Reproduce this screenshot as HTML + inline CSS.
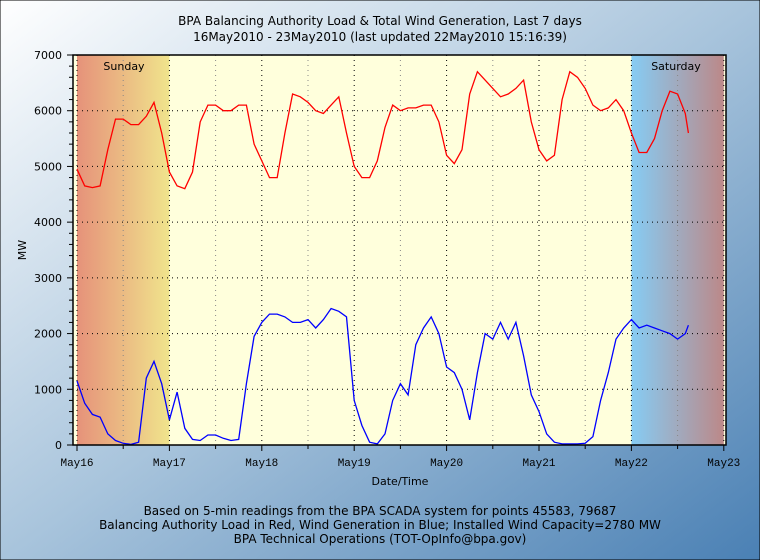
<!DOCTYPE html>
<html><head><meta charset="utf-8"><style>
body{margin:0;width:760px;height:560px;overflow:hidden}
svg{display:block;font-family:"DejaVu Sans","Liberation Sans",sans-serif}
</style></head><body>
<svg id="chart" width="760" height="560">
<defs>
<linearGradient id="bg" x1="0" y1="0" x2="1" y2="1"><stop offset="0" stop-color="#ffffff"/><stop offset="0.5" stop-color="#a8c4dc"/><stop offset="1" stop-color="#4a80b4"/></linearGradient>
<linearGradient id="sun" x1="0" x2="1"><stop offset="0" stop-color="#e6927a"/><stop offset="1" stop-color="#f0e48c"/></linearGradient>
<linearGradient id="sat" x1="0" x2="1"><stop offset="0" stop-color="#86ccf4"/><stop offset="1" stop-color="#bc8888"/></linearGradient>
</defs>
<rect width="760" height="560" fill="url(#bg)" stroke="#000"/>
<text x="380" y="25" text-anchor="middle" font-size="12">BPA Balancing Authority Load &amp; Total Wind Generation, Last 7 days</text>
<text x="380" y="41" text-anchor="middle" font-size="12">16May2010 - 23May2010 (last updated 22May2010 15:16:39)</text>
<rect x="73" y="55" width="653" height="390" fill="#ffffdc"/>
<g id="bands"></g><g id="grid"></g><g id="series"></g><g id="axes"></g>
<text x="124" y="70" text-anchor="middle" font-size="11">Sunday</text>
<text x="676" y="70" text-anchor="middle" font-size="11">Saturday</text>
<text transform="translate(26,250) rotate(-90)" text-anchor="middle" font-size="11">MW</text>
<text x="400" y="485" text-anchor="middle" font-size="11">Date/Time</text>
<text x="380" y="515" text-anchor="middle" font-size="12">Based on 5-min readings from the BPA SCADA system for points 45583, 79687</text>
<text x="380" y="529" text-anchor="middle" font-size="12">Balancing Authority Load in Red, Wind Generation in Blue; Installed Wind Capacity=2780 MW</text>
<text x="380" y="543" text-anchor="middle" font-size="12">BPA Technical Operations (TOT-OpInfo@bpa.gov)</text>
</svg>
<script>
const dayLabels=["May16","May17","May18","May19","May20","May21","May22","May23"];
const yTicks=[0,1000,2000,3000,4000,5000,6000,7000];
// values every 2 hours starting May16 00:00; last point at 14.8h on May22
const loadMW=[4950,4650,4620,4650,5300,5850,5850,5750,5750,5900,6150,5600,
4900,4650,4600,4900,5800,6100,6100,6000,6000,6100,6100,5400,
5100,4800,4800,5600,6300,6250,6150,6000,5950,6100,6250,5600,
5000,4800,4800,5100,5700,6100,6000,6050,6050,6100,6100,5800,
5200,5050,5300,6300,6700,6550,6400,6250,6300,6400,6550,5800,
5300,5100,5200,6200,6700,6600,6400,6100,6000,6050,6200,6000,
5600,5250,5250,5500,6000,6350,6300,5950,5600];
const windMW=[1150,750,550,500,200,80,30,10,50,1200,1500,1100,
450,950,300,100,80,180,180,120,80,100,1100,1950,
2200,2350,2350,2300,2200,2200,2250,2100,2250,2450,2400,2300,
800,350,50,20,200,800,1100,900,1800,2100,2300,2000,
1400,1300,1000,450,1300,2000,1900,2200,1900,2200,1600,900,
600,200,50,20,20,20,30,150,800,1300,1900,2100,
2250,2100,2150,2100,2050,2000,1900,2000,2150];
const hoursStep=2, lastHour=6*24+14.8;
const NS="http://www.w3.org/2000/svg";
const X0=77,DAY=92.4,Y0=445,YTOP=55,YMAX=7000;
const xs=h=>X0+h/24*DAY, ys=v=>Y0-v/YMAX*(Y0-YTOP);
function mk(tag,attrs,parent){const e=document.createElementNS(NS,tag);for(const k in attrs)e.setAttribute(k,attrs[k]);document.getElementById(parent).appendChild(e);return e;}
let e;
e=mk("rect",{x:X0,y:YTOP,width:DAY,height:Y0-YTOP,fill:"url(#sun)"},"bands");


e=mk("rect",{x:xs(6*24),y:YTOP,width:xs(7*24)-xs(6*24),height:Y0-YTOP,fill:"url(#sat)"},"bands");


for(let d=0;d<=7;d++){for(const half of [0,12]){const x=xs(d*24+half);if(x>726)continue;
e=mk("line",{x1:x,x2:x,y1:YTOP,y2:Y0,stroke:half?"#888":"#000","stroke-dasharray":"1,4"},"grid");


e=mk("line",{x1:x,x2:x,y1:Y0,y2:Y0+(half?4:6),stroke:"#000"},"axes");

}
e=mk("text",{x:xs(d*24),y:466,"text-anchor":"middle","font-size":"11","font-family":"Liberation Mono,monospace"},"axes");
e.textContent=dayLabels[d];

}
yTicks.forEach(v=>{const y=ys(v);
if(v>0){e=mk("line",{x1:X0,x2:726,y1:y,y2:y,stroke:"#000","stroke-dasharray":"1,4"},"grid");

}
e=mk("text",{x:62,y:y+4,"text-anchor":"end","font-size":"11"},"axes");
e.textContent=v;

});
for(let v=0;v<=YMAX;v+=200){const y=ys(v);
e=mk("line",{x1:v%1000?69:67,x2:73,y1:y,y2:y,stroke:"#000"},"axes");

}
function pts(arr){return arr.map((v,i)=>{const h=Math.min(i*hoursStep,lastHour);return xs(h).toFixed(1)+","+ys(v).toFixed(1);}).join(" ");}
e=mk("polyline",{points:pts(loadMW),fill:"none",stroke:"#f00","stroke-width":"1.3"},"series");


e=mk("polyline",{points:pts(windMW),fill:"none",stroke:"#00f","stroke-width":"1.3"},"series");


e=mk("rect",{x:73,y:55,width:653,height:390,fill:"none",stroke:"#000","stroke-width":"1.5"},"axes");


</script>
</body></html>
